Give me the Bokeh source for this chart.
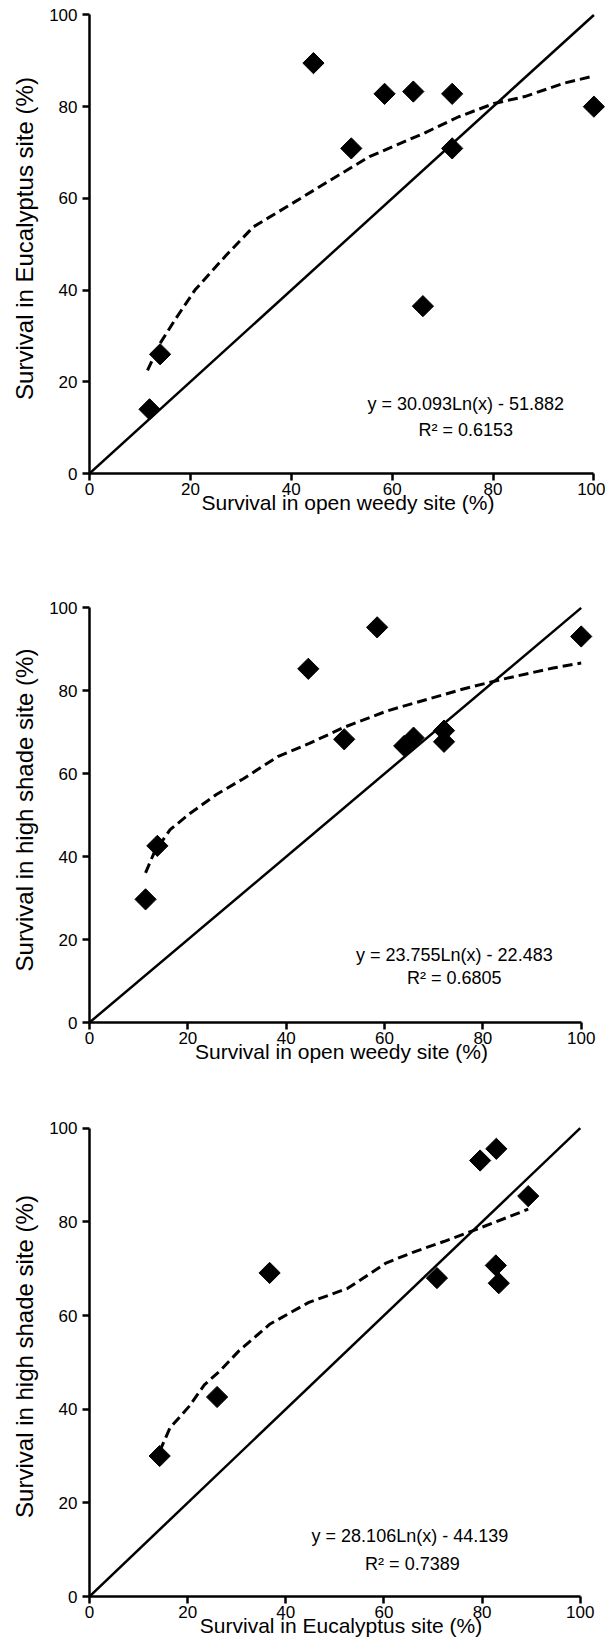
import math
from bokeh.plotting import figure
from bokeh.layouts import column
from bokeh.models import Range1d, FixedTicker
from bokeh.core.properties import value
from bokeh.embed import file_html
from bokeh.resources import INLINE

FONT = "Liberation Sans"
TICKS = [0, 20, 40, 60, 80, 100]

# Panel 1: open weedy (x) vs Eucalyptus (y)
p1_x = [11.9, 14.0, 44.4, 51.9, 58.5, 64.2, 66.1, 71.9, 71.9, 100.0]
p1_y = [14.0, 26.0, 89.5, 70.9, 82.8, 83.3, 36.5, 82.8, 70.9, 80.0]
p1_trend_x = [11.5, 14.0, 17.0, 20.9, 24.0, 27.1, 32.5, 40.2, 47.8, 55.5, 66.3, 73.2, 80.2, 86.3, 94.0, 100.0]
p1_trend_y = [22.5, 28.4, 33.6, 40.0, 43.8, 47.6, 53.8, 58.9, 64.0, 69.1, 74.2, 77.8, 80.7, 82.2, 85.1, 86.7]
p1_eq = "y = 30.093Ln(x) - 51.882"
p1_r2 = "R² = 0.6153"

# Panel 2: open weedy (x) vs high shade (y)
p2_x = [11.4, 13.8, 44.5, 58.5, 51.8, 64.0, 65.9, 72.1, 72.1, 100.0]
p2_y = [29.7, 42.6, 85.3, 95.3, 68.3, 66.7, 68.7, 70.4, 67.7, 93.1]
p2_trend_x = [11.4, 13.2, 16.4, 20.3, 25.8, 31.3, 38.4, 44.7, 51.8, 60.4, 65.9, 76.2, 84.0, 94.3, 100.0]
p2_trend_y = [36.1, 41.1, 46.5, 50.3, 55.0, 58.8, 64.2, 67.3, 71.2, 75.1, 77.0, 80.5, 82.8, 85.5, 86.7]
p2_eq = "y = 23.755Ln(x) - 22.483"
p2_r2 = "R² = 0.6805"

# Panel 3: Eucalyptus (x) vs high shade (y)
p3_x = [14.3, 26.0, 36.7, 70.8, 79.6, 82.9, 82.8, 83.4, 89.4]
p3_y = [30.0, 42.6, 69.1, 68.0, 93.1, 95.6, 70.7, 66.9, 85.5]
p3_trend_x = [14.3, 16.4, 20.3, 23.4, 26.6, 30.5, 36.8, 44.7, 52.6, 60.4, 65.9, 72.2, 80.1, 89.4]
p3_trend_y = [31.0, 36.0, 40.6, 45.2, 48.2, 52.5, 58.2, 62.8, 65.8, 71.2, 73.5, 75.8, 78.9, 82.7]
p3_eq = "y = 28.106Ln(x)  - 44.139"
p3_r2 = "R² = 0.7389"


def make_panel(xs, ys, tx, ty, eq, r2, eqpos, r2pos, xlabel, ylabel,
               fw, fh, left, right, top, bottom):
    p = figure(frame_width=fw, frame_height=fh,
               x_range=Range1d(0, 102.5), y_range=Range1d(0, 102.5),
               output_backend="svg", toolbar_location=None,
               min_border_left=left, min_border_right=right,
               min_border_top=top, min_border_bottom=bottom)
    p.outline_line_color = None
    p.xgrid.visible = False
    p.ygrid.visible = False
    p.background_fill_color = "white"
    p.border_fill_color = "white"

    p.line([0, 100], [0, 100], line_width=2.5, line_color="black")
    p.line(tx, ty, line_width=3, line_color="black", line_dash="10 5")
    p.scatter(xs, ys, marker="square", angle=math.pi / 4, size=15,
              fill_color="black", line_color="black")

    p.text([eqpos[0]], [eqpos[1]], text=[eq], text_font=value(FONT),
           text_font_size="18px", text_align="center", text_baseline="middle",
           text_color="black")
    p.text([r2pos[0]], [r2pos[1]], text=[r2], text_font=value(FONT),
           text_font_size="18px", text_align="center", text_baseline="middle",
           text_color="black")

    for ax in (p.xaxis[0], p.yaxis[0]):
        ax.bounds = (0, 100)
        ax.ticker = FixedTicker(ticks=TICKS)
        ax.minor_tick_line_color = None
        ax.major_tick_in = 0
        ax.major_tick_out = 7
        ax.axis_line_width = 2.5
        ax.axis_line_color = "black"
        ax.major_tick_line_width = 2.5
        ax.major_tick_line_color = "black"
        ax.major_label_text_font = FONT
        ax.major_label_text_font_size = "17px"
        ax.major_label_text_color = "black"
        ax.axis_label_text_font = FONT
        ax.axis_label_text_font_style = "normal"
        ax.axis_label_text_color = "black"
    p.xaxis[0].axis_label = xlabel
    p.yaxis[0].axis_label = ylabel
    p.xaxis[0].axis_label_text_font_size = "21px"
    p.yaxis[0].axis_label_text_font_size = "24px"
    p.xaxis[0].major_label_standoff = 2
    p.xaxis[0].axis_label_standoff = -7
    p.yaxis[0].major_label_standoff = 5
    p.yaxis[0].axis_label_standoff = 8
    return p


f1 = make_panel(p1_x, p1_y, p1_trend_x, p1_trend_y, p1_eq, p1_r2,
                (74.6, 15.1), (74.6, 9.5),
                "Survival in open weedy site (%)", "Survival in Eucalyptus site (%)",
                517, 470, 87, 1, 3, 69)
f2 = make_panel(p2_x, p2_y, p2_trend_x, p2_trend_y, p2_eq, p2_r2,
                (74.2, 16.2), (74.2, 10.8),
                "Survival in open weedy site (%)", "Survival in high shade site (%)",
                504, 425, 89, 12, 55, 60)
f3 = make_panel(p3_x, p3_y, p3_trend_x, p3_trend_y, p3_eq, p3_r2,
                (65.8, 12.9), (65.8, 7.0),
                "Survival in Eucalyptus site (%)", "Survival in high shade site (%)",
                503, 480, 89, 13, 34, 37)

layout = column(f1, f2, f3, spacing=0)
open("out.html", "w").write(file_html(layout, INLINE))
